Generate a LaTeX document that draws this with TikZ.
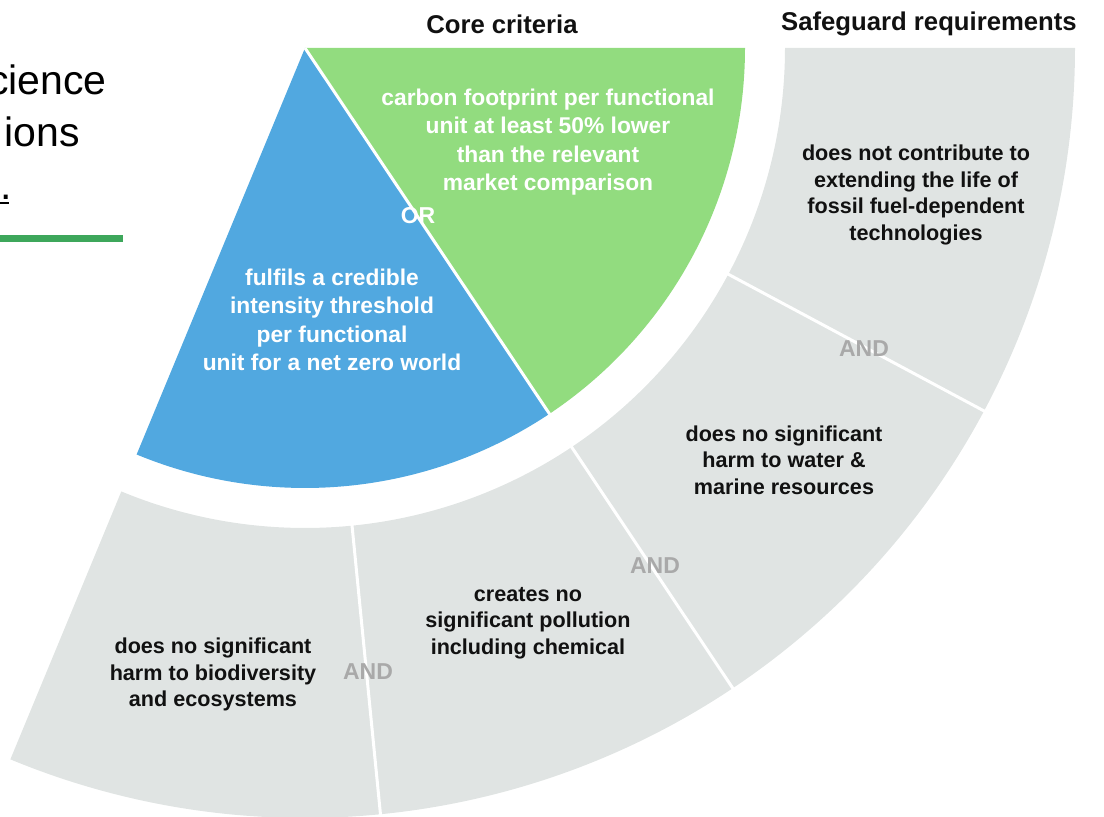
\documentclass[tikz,border=0pt]{standalone}
\usepackage{fontspec}
\setmainfont{Liberation Sans}
\definecolor{ringgray}{HTML}{E0E4E3}
\definecolor{coreblue}{HTML}{51A8E0}
\definecolor{coregreen}{HTML}{92DC7F}
\definecolor{bargreen}{HTML}{3DA75B}
\definecolor{andgray}{HTML}{A9A9A9}
\definecolor{txtblack}{HTML}{111111}
\tikzset{
  wtxt/.style={text=white, font=\bfseries\fontsize{22.8}{28.5}\selectfont, align=center, inner sep=0pt},
  btxt/.style={text=txtblack, font=\bfseries\fontsize{21.6}{26.6}\selectfont, align=center, inner sep=0pt},
  andtxt/.style={text=andgray, font=\bfseries\fontsize{23}{26}\selectfont, inner sep=0pt},
  ortxt/.style={text=white, font=\bfseries\fontsize{23}{26}\selectfont, inner sep=0pt},
  hdr/.style={text=txtblack, font=\bfseries\fontsize{25.7}{30}\selectfont, inner sep=0pt},
  lefttxt/.style={text=black, font=\fontsize{41}{50}\selectfont, inner sep=0pt, anchor=base east},
  divider/.style={draw=white, line width=3pt},
}
\begin{document}
\begin{tikzpicture}[x=1pt,y=1pt]
\useasboundingbox (0,0) rectangle (1104,817);
\coordinate (C) at (305,769);

% safeguard ring
\fill[ringgray] ([shift={(C)}]0:480) arc[start angle=0, end angle=-112.5, radius=480]
   -- ([shift={(C)}]-112.5:770) arc[start angle=-112.5, end angle=0, radius=770] -- cycle;
\foreach \a in {-28.125,-56.25,-84.375}
  \draw[divider] ([shift={(C)}]\a:477) -- ([shift={(C)}]\a:773);

% core criteria
\fill[coregreen] (C) -- ([shift={(C)}]0:440) arc[start angle=0, end angle=-56.25, radius=440] -- cycle;
\fill[coreblue] (C) -- ([shift={(C)}]-56.25:440) arc[start angle=-56.25, end angle=-112.5, radius=440] -- cycle;
\draw[divider] (C) -- ([shift={(C)}]-56.25:442);

% headers
\node[hdr] (h1) at (502,793) {Core criteria};
\node[hdr] (h2) at (929,793) {Safeguard requirements};

% core texts
\node[wtxt] (green) at (548,675) {carbon footprint per functional\\unit at least 50\% lower\\than the relevant\\market comparison};
\node[wtxt] (blue) at (332,497) {fulfils a credible\\intensity threshold\\per functional\\unit for a net zero world};
\node[ortxt] (or) at (418,601) {OR};

% safeguard texts
\node[btxt] (s1) at (916,622) {does not contribute to\\extending the life of\\fossil fuel-dependent\\technologies};
\node[btxt] (s2) at (784,357) {does no significant\\harm to water \&\\marine resources};
\node[btxt] (s3) at (528,194) {creates no\\significant pollution\\including chemical};
\node[btxt] (s4) at (213,142.5) {does no significant\\harm to biodiversity\\and ecosystems};
\node[andtxt] (and1) at (864,468) {AND};
\node[andtxt] (and2) at (655,251) {AND};
\node[andtxt] (and3) at (368,145) {AND};

% left cropped text
\node[lefttxt] (l1) at (107,722) {cience};
\node[lefttxt] (l2) at (80,670) {ions};
\node[lefttxt, anchor=base west] (l3) at (0,617) {.};
\draw[black, line width=1.5pt] (0,614) -- (9,614);
\fill[bargreen] (0,575) rectangle (123,582);
\end{tikzpicture}
\end{document}
